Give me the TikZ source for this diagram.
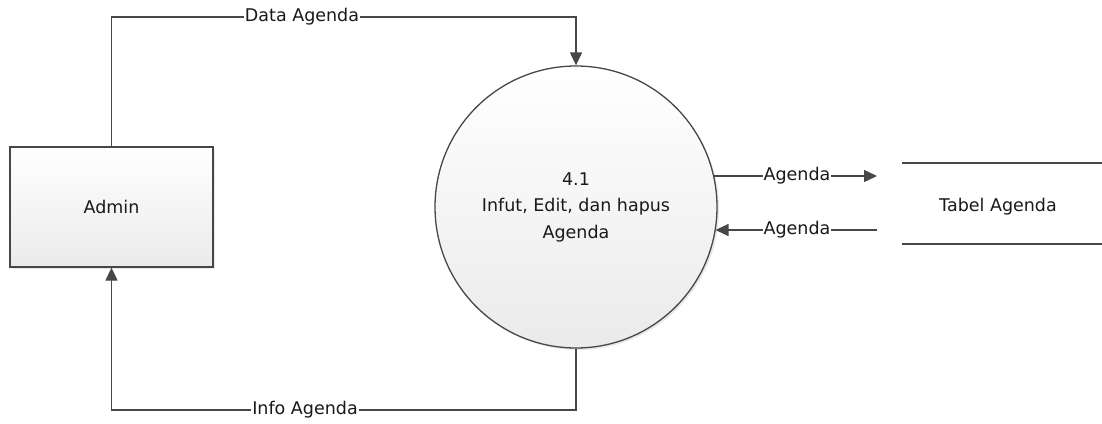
\documentclass[tikz,border=0pt]{standalone}
\usepackage{fontspec}
\setmainfont{DejaVu Sans}
\usetikzlibrary{arrows.meta,shadows}
\begin{document}
\begin{tikzpicture}[x=1pt,y=-1pt,
  line/.style={draw=black!72, line width=1.3pt},
  arr/.style={line, -{Triangle[length=13pt,width=12pt]}},
  txt/.style={font=\fontsize{17.5}{26.5}\selectfont, text=black!90},
  lbl/.style={txt, fill=white, inner sep=1pt},
  shape box/.style={txt, draw=black!72, line width=1.3pt, top color=white, bottom color=black!8,
    drop shadow={opacity=0.18, shadow xshift=2pt, shadow yshift=-2pt}},
]
\useasboundingbox (0,0) rectangle (1102,423);
\node[shape box, minimum width=203pt, minimum height=120pt, inner sep=0pt] (admin) at (111.5,207) {Admin};
\node[shape box, circle, minimum size=282pt, inner sep=0pt, align=center] (proc) at (576,207)
  {4.1\\Infut, Edit, dan hapus\\Agenda};
\coordinate (s1a) at (902,163); \coordinate (s1b) at (1102,163);
\coordinate (s2a) at (902,244); \coordinate (s2b) at (1102,244);
\draw[line] (s1a) -- (s1b);
\draw[line] (s2a) -- (s2b);
\node[txt] (store) at (998,207) {Tabel Agenda};
\coordinate (sin) at (877,176);
\coordinate (sout) at (877,230);
\coordinate (pin) at (714,176);
\coordinate (pout) at (715.5,230);
% Data Agenda
\draw[arr] (admin.north) -- (admin.north |- 0,17) -- (proc.north |- 0,17) -- (proc.north);
\node[lbl] (ldata) at (302,17) {Data Agenda};
% Info Agenda
\draw[arr] (proc.south) -- (proc.south |- 0,410) -- (admin.south |- 0,410) -- (admin.south);
\node[lbl] (linfo) at (305,410) {Info Agenda};
% Agenda flows
\draw[arr] (pin) -- (sin);
\node[lbl] (lag1) at (797,176) {Agenda};
\draw[arr] (sout) -- (pout);
\node[lbl] (lag2) at (797,230) {Agenda};
\end{tikzpicture}
\end{document}
